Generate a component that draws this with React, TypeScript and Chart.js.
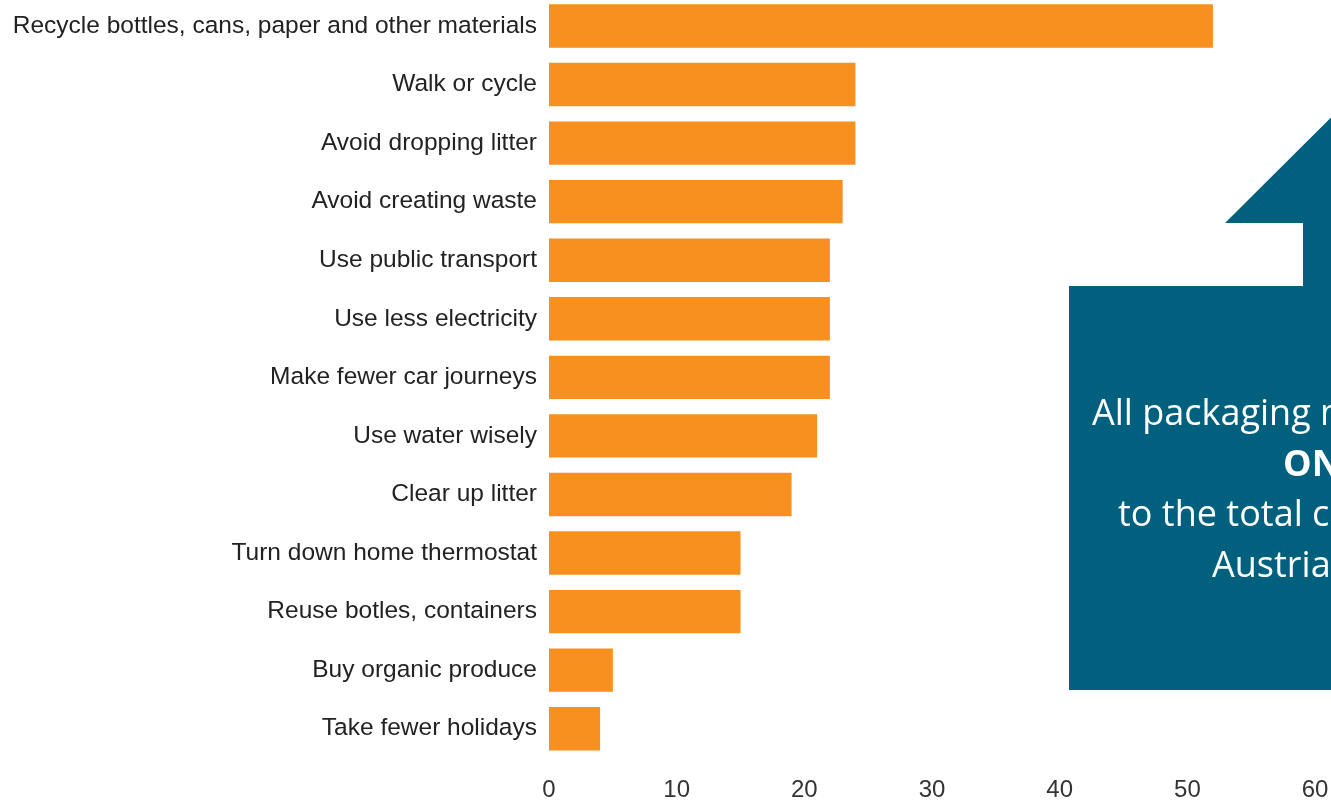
import React, { useEffect, useRef } from "react";
import { Chart, registerables } from "chart.js";

Chart.register(...registerables);

const categories: string[] = [
  "Recycle bottles, cans, paper and other materials",
  "Walk or cycle",
  "Avoid dropping litter",
  "Avoid creating waste",
  "Use public transport",
  "Use less electricity",
  "Make fewer car journeys",
  "Use water wisely",
  "Clear up litter",
  "Turn down home thermostat",
  "Reuse botles, containers",
  "Buy organic produce",
  "Take fewer holidays",
];

const values: number[] = [52, 24, 24, 23, 22, 22, 22, 21, 19, 15, 15, 5, 4];

const xTicks: number[] = [0, 10, 20, 30, 40, 50, 60];

const calloutLines: { text: string; bold: boolean }[] = [
  { text: "All packaging materials contribute", bold: false },
  { text: "ONLY 1%", bold: true },
  { text: "to the total carbon footprint of", bold: false },
  { text: "Austria's consumption", bold: false },
];

const BAR = "#F7901E";
const TEAL = "#00607E";

function BarChart() {
  const ref = useRef<HTMLCanvasElement | null>(null);
  useEffect(() => {
    if (!ref.current) return;
    const chart = new Chart(ref.current, {
      type: "bar",
      data: {
        labels: categories,
        datasets: [
          {
            data: values,
            backgroundColor: BAR,
            borderWidth: 0,
            barPercentage: 0.74,
            categoryPercentage: 1,
          },
        ],
      },
      options: {
        indexAxis: "y",
        responsive: false,
        animation: false,
        layout: { padding: { top: 36.7, bottom: 1, left: 0, right: 0 } },
        plugins: { legend: { display: false }, tooltip: { enabled: false } },
        scales: {
          x: {
            type: "linear",
            min: xTicks[0],
            max: xTicks[xTicks.length - 1],
            afterBuildTicks: (s: any) => {
              s.ticks = xTicks.map((v) => ({ value: v }));
            },
            ticks: {
              font: { family: "'Liberation Sans', Arial, sans-serif", size: 24 },
              color: "#333333",
              padding: 17.6,
            },
            grid: { display: false, drawTicks: false },
            border: { display: false },
          },
          y: {
            afterFit: (s: any) => {
              s.width = 549;
            },
            ticks: {
              font: { family: "'Liberation Sans', Arial, sans-serif", size: 24.5 },
              color: "#222222",
              padding: 12,
            },
            grid: { display: false, drawTicks: false },
            border: { display: false },
          },
        },
      },
    });
    return () => chart.destroy();
  }, []);
  return (
    <canvas
      ref={ref}
      width={1346}
      height={863}
      style={{ position: "absolute", left: 0, top: -40, width: 1346, height: 863 }}
    />
  );
}

function Callout() {
  const starts = [1092, 1283, 1118, 1212];
  const baselines = [426, 477, 527, 578];
  return (
    <>
      <svg
        width={1331}
        height={802}
        style={{ position: "absolute", left: 0, top: 0 }}
      >
        <polygon
          points="1069,690 1069,286 1303,286 1303,223 1225,223 1400,49 1400,690"
          fill={TEAL}
        />
      </svg>
      {calloutLines.map((l, i) => (
        <div
          key={i}
          style={{
            position: "absolute",
            left: starts[i],
            top: baselines[i] - 39,
            height: 50,
            lineHeight: "50px",
            whiteSpace: "nowrap",
            color: "#ffffff",
            fontFamily: "'Open Sans', sans-serif",
            fontSize: 36,
            fontWeight: l.bold ? 700 : 400,
          }}
        >
          {l.text}
        </div>
      ))}
    </>
  );
}

export default function App() {
  return (
    <div
      style={{
        position: "fixed",
        left: 0,
        top: 0,
        width: 1331,
        height: 802,
        overflow: "hidden",
        background: "#ffffff",
      }}
    >
      <BarChart />
      <Callout />
    </div>
  );
}
